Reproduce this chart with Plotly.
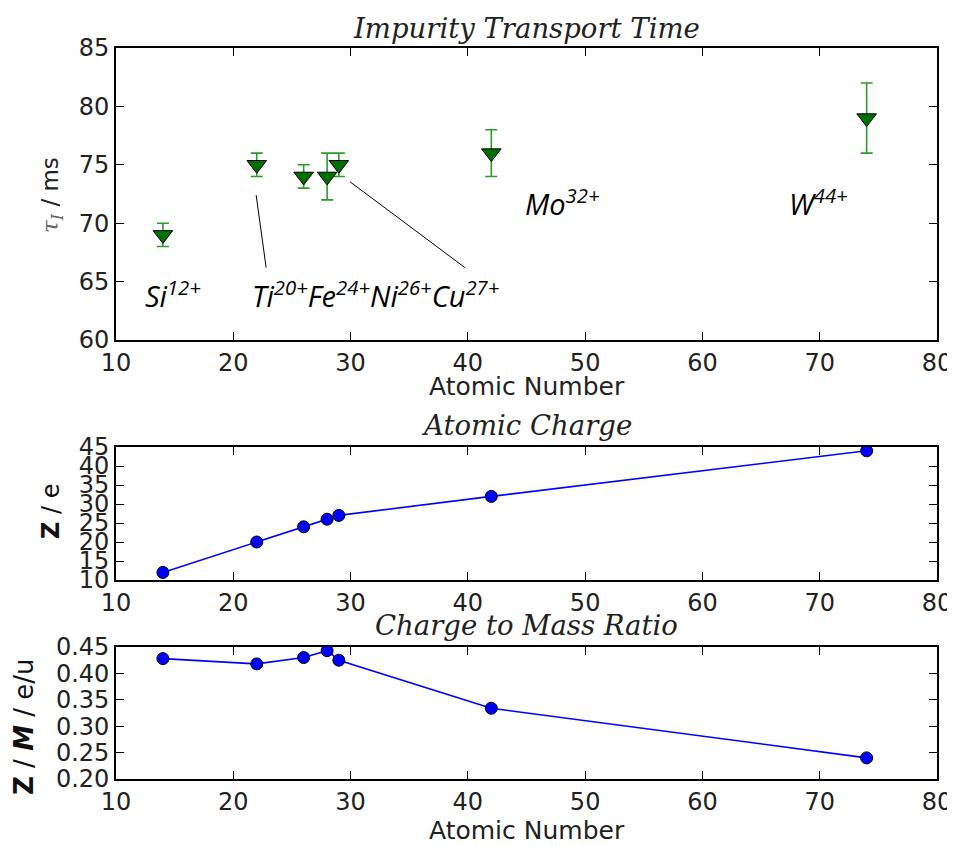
import plotly.graph_objects as go

# ---------------- data ----------------
atomic_number = [14, 22, 26, 28, 29, 42, 74]
elements = ["Si", "Ti", "Fe", "Ni", "Cu", "Mo", "W"]
tau_ms = [69, 75, 74, 74, 75, 76, 79]
tau_err = [1, 1, 1, 2, 1, 2, 3]
charge_z = [12, 20, 24, 26, 27, 32, 44]
z_over_m = [0.428, 0.418, 0.430, 0.443, 0.425, 0.334, 0.240]

x_ticks = [10, 20, 30, 40, 50, 60, 70, 80]

# label annotations (text, x, y) in data units of top panel
ion_labels = [
    ("<i>Si<sup>12+</sup></i>", 12.3, 63.9),
    ("<i>Ti<sup>20+</sup>Fe<sup>24+</sup>Ni<sup>26+</sup>Cu<sup>27+</sup></i>", 21.4, 63.9),
    ("<i>Mo<sup>32+</sup></i>", 44.7, 71.8),
    ("<i>W<sup>44+</sup></i>", 67.2, 71.8),
]
# leader lines (x0, y0, x1, y1) in data units of top panel
leader_lines = [
    (21.95, 72.4, 22.8, 66.2),
    (29.95, 73.55, 39.75, 66.2),
]

# the page has an 8px body margin; positions below are window pixels
OFF = 8
W, H = 955, 846
def px_x(p):
    return (p - OFF) / W
def px_y(p):
    return 1 - (p - OFF) / H

TICKFONT = dict(family="DejaVu Sans", size=24, color="#222222")
TITLEFONT = dict(family="DejaVu Serif", size=27.5, color="#222222")
AXTITLEFONT = dict(family="DejaVu Sans", size=25, color="#222222")

fig = go.Figure()

# top panel
fig.add_trace(go.Scatter(
    x=atomic_number, y=tau_ms, mode="markers",
    marker=dict(symbol="triangle-down", size=17, color="#007000",
                line=dict(color="black", width=1)),
    error_y=dict(type="data", array=tau_err, visible=True,
                 color="#2a9d2a", thickness=1.6, width=6),
    xaxis="x", yaxis="y", showlegend=False,
))

# middle panel
fig.add_trace(go.Scatter(
    x=atomic_number, y=charge_z, mode="lines+markers",
    line=dict(color="#0000ff", width=1.6),
    marker=dict(symbol="circle", size=12, color="#0000ff",
                line=dict(color="black", width=1)),
    xaxis="x2", yaxis="y2", showlegend=False,
))

# bottom panel
fig.add_trace(go.Scatter(
    x=atomic_number, y=z_over_m, mode="lines+markers",
    line=dict(color="#0000ff", width=1.6),
    marker=dict(symbol="circle", size=12, color="#0000ff",
                line=dict(color="black", width=1)),
    xaxis="x3", yaxis="y3", showlegend=False,
))

xdom = [px_x(116), px_x(937)]
common_x = dict(range=[10, 80], tickvals=x_ticks, ticks="inside", ticklen=8,
                tickwidth=1.3, tickcolor="black", showline=True, linecolor="black",
                linewidth=1.6, mirror="allticks", showgrid=False, zeroline=False,
                tickfont=TICKFONT, domain=xdom, automargin=False)
common_y = dict(ticks="inside", ticklen=8, tickwidth=1.3, tickcolor="black",
                showline=True, linecolor="black", linewidth=1.6, mirror="allticks",
                showgrid=False, zeroline=False, tickfont=TICKFONT, automargin=False)

fig.update_layout(
    width=W, height=H,
    margin=dict(l=0, r=0, t=0, b=0, autoexpand=False),
    paper_bgcolor="white", plot_bgcolor="white",
    xaxis=dict(common_x, anchor="y"),
    yaxis=dict(common_y, range=[60, 85], dtick=5, domain=[px_y(340), px_y(48)], anchor="x"),
    xaxis2=dict(common_x, anchor="y2"),
    yaxis2=dict(common_y, range=[10, 45], dtick=5, domain=[px_y(580), px_y(447)], anchor="x2"),
    xaxis3=dict(common_x, anchor="y3"),
    yaxis3=dict(common_y, range=[0.2, 0.45], dtick=0.05, tickformat=".2f",
                domain=[px_y(779), px_y(647)], anchor="x3"),
)

annotations = []
# panel titles
for text, ypx in [("Impurity Transport Time", 28), ("Atomic Charge", 425), ("Charge to Mass Ratio", 625)]:
    annotations.append(dict(text=f"<i>{text}</i>", x=px_x(526.5), y=px_y(ypx), xref="paper", yref="paper",
                            showarrow=False, xanchor="center", yanchor="middle", font=TITLEFONT))

# x axis titles
for ypx in [386, 830]:
    annotations.append(dict(text="Atomic Number", x=px_x(526.5), y=px_y(ypx), xref="paper", yref="paper",
                            showarrow=False, xanchor="center", yanchor="middle", font=AXTITLEFONT))

# y axis titles
annotations.append(dict(
    text='<span style="font-family:DejaVu Serif;color:#666666"><i>τ<sub>I</sub></i></span> / ms',
    x=px_x(52), y=px_y(195), xref="paper", yref="paper", showarrow=False, textangle=-90,
    xanchor="center", yanchor="middle", font=dict(family="DejaVu Sans", size=23, color="#222222")))
annotations.append(dict(
    text="<b>Z</b> / e",
    x=px_x(51), y=px_y(511), xref="paper", yref="paper", showarrow=False, textangle=-90,
    xanchor="center", yanchor="middle", font=dict(family="DejaVu Sans", size=24, color="#111111")))
annotations.append(dict(
    text="<b>Z</b> / <b><i>M</i></b> / e/u",
    x=px_x(24), y=px_y(727), xref="paper", yref="paper", showarrow=False, textangle=-90,
    xanchor="center", yanchor="middle", font=dict(family="DejaVu Sans", size=26, color="#111111")))

# ion labels
for text, xv, yv in ion_labels:
    annotations.append(dict(text=text, x=xv, y=yv, xref="x", yref="y", showarrow=False,
                            xanchor="left", yanchor="middle",
                            font=dict(family="Open Sans", size=29, color="black")))

fig.update_layout(annotations=annotations)

for x0, y0, x1, y1 in leader_lines:
    fig.add_shape(type="line", x0=x0, y0=y0, x1=x1, y1=y1, xref="x", yref="y",
                  line=dict(color="black", width=1))

fig.write_html("out.html")
